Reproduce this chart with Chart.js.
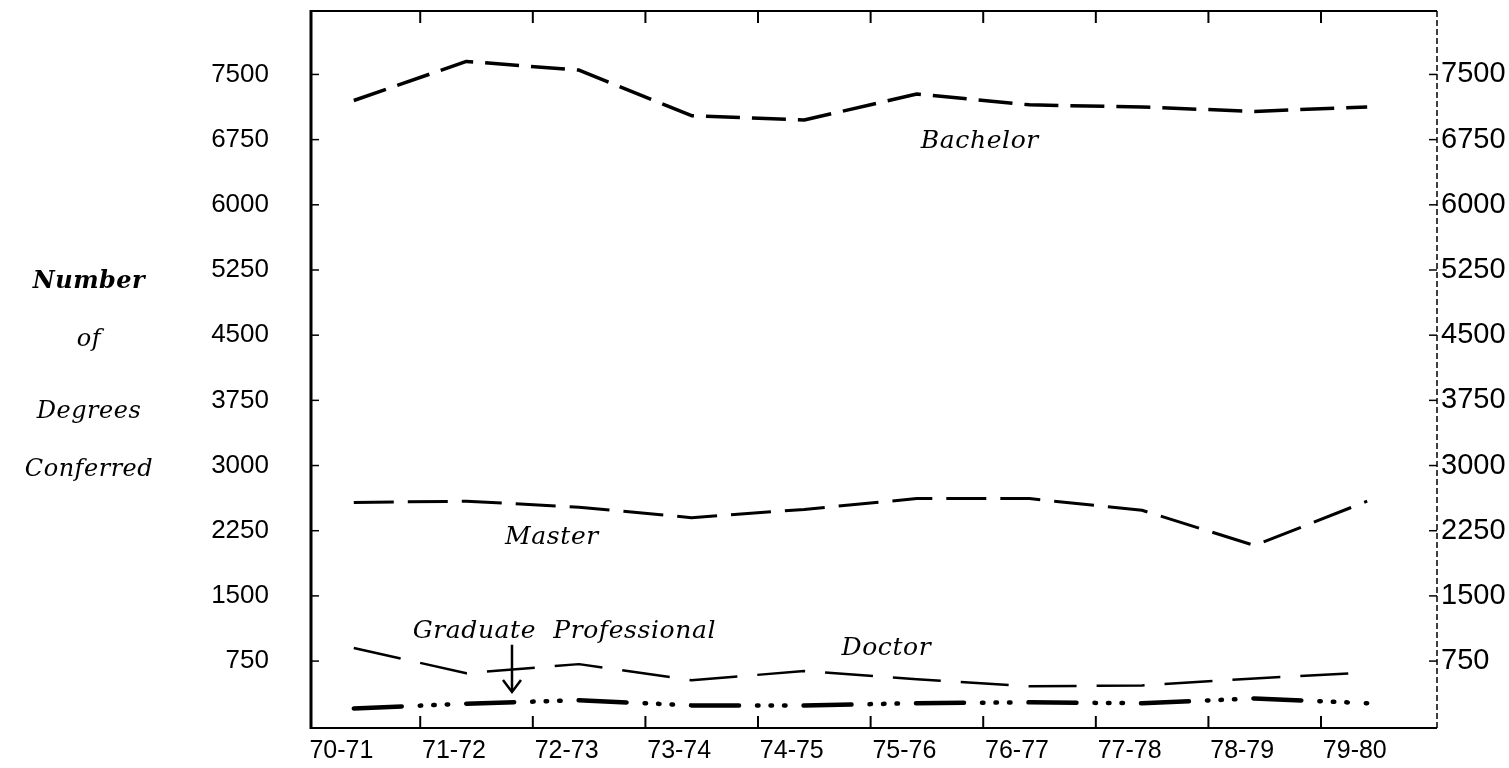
<!DOCTYPE html>
<html>
<head>
<meta charset="utf-8">
<script src="https://cdn.jsdelivr.net/npm/chart.js@4/dist/chart.umd.min.js"></script>
<style>
html,body{margin:0;padding:0;background:#fff;overflow:hidden}
canvas{display:block}
</style>
</head>
<body>
<canvas id="c" width="1509" height="768"></canvas>
<script>
// ---- data ----
const categories = ['70-71','71-72','72-73','73-74','74-75','75-76','76-77','77-78','78-79','79-80'];
const yTickValues = [750,1500,2250,3000,3750,4500,5250,6000,6750,7500];
const bachelor = [7200,7650,7550,7025,6975,7275,7150,7125,7075,7125];
const master = [2575,2590,2520,2400,2495,2620,2620,2485,2080,2590];
const doctor = [900,610,715,530,635,540,460,470,550,620];
const gradProfessional = [205,260,300,240,240,265,275,265,320,265];
const frameTickPositions = [0.7,1.7,2.7,3.7,4.7,5.7,6.7,7.7,8.7];

// annotation labels (in axis units)
const annotations = [
  {text:'Bachelor', x:5.67, y:6730},
  {text:'Master', x:1.87, y:2176},
  {text:'Graduate  Professional', x:1.98, y:1095},
  {text:'Doctor', x:4.84, y:900}
];
const arrowAnno = {x:1.515, yFrom:938, yTo:394};
const yTitleLines = [
  {text:'Number', bold:true, y:282},
  {text:'of', bold:false, y:340},
  {text:'Degrees', bold:false, y:412},
  {text:'Conferred', bold:false, y:470}
];

const toXY = arr => arr.map((v,i)=>({x:i, y:v}));

const decor = {
  id:'decor',
  afterDraw(chart){
    const ctx = chart.ctx, a = chart.chartArea;
    const xl = chart.scales.xl, y = chart.scales.y;
    ctx.save();
    ctx.strokeStyle = '#000';
    ctx.lineCap = 'butt';
    // frame
    ctx.lineWidth = 3;
    ctx.beginPath(); ctx.moveTo(a.left, a.top-1); ctx.lineTo(a.left, a.bottom+1); ctx.stroke();
    ctx.lineWidth = 2;
    ctx.beginPath(); ctx.moveTo(a.left, a.top); ctx.lineTo(a.right, a.top); ctx.stroke();
    ctx.beginPath(); ctx.moveTo(a.left, a.bottom); ctx.lineTo(a.right, a.bottom); ctx.stroke();
    ctx.lineWidth = 1.5;
    ctx.setLineDash([6,3]);
    ctx.beginPath(); ctx.moveTo(a.right, a.top); ctx.lineTo(a.right, a.bottom); ctx.stroke();
    ctx.setLineDash([]);
    // inner ticks top/bottom
    ctx.lineWidth = 2;
    frameTickPositions.forEach(v=>{
      const px = xl.getPixelForValue(v);
      ctx.beginPath(); ctx.moveTo(px, a.top); ctx.lineTo(px, a.top+12); ctx.stroke();
      ctx.beginPath(); ctx.moveTo(px, a.bottom); ctx.lineTo(px, a.bottom-12); ctx.stroke();
    });
    // inner ticks left/right
    ctx.lineWidth = 1.5;
    yTickValues.forEach(v=>{
      const py = y.getPixelForValue(v);
      ctx.beginPath(); ctx.moveTo(a.left, py); ctx.lineTo(a.left+8, py); ctx.stroke();
      ctx.beginPath(); ctx.moveTo(a.right-8, py); ctx.lineTo(a.right, py); ctx.stroke();
    });
    // annotations
    ctx.fillStyle = '#000';
    ctx.textAlign = 'center';
    ctx.textBaseline = 'middle';
    ctx.font = 'italic 25px "DejaVu Serif"';
    try { ctx.letterSpacing = '0.6px'; } catch(e) {}
    annotations.forEach(an=>{
      ctx.fillText(an.text, xl.getPixelForValue(an.x), y.getPixelForValue(an.y));
    });
    // arrow
    const ax = xl.getPixelForValue(arrowAnno.x);
    const ay1 = y.getPixelForValue(arrowAnno.yFrom), ay2 = y.getPixelForValue(arrowAnno.yTo);
    ctx.lineWidth = 2.5;
    ctx.beginPath(); ctx.moveTo(ax, ay1); ctx.lineTo(ax, ay2); ctx.stroke();
    ctx.beginPath(); ctx.moveTo(ax-9, ay2-12); ctx.lineTo(ax, ay2); ctx.lineTo(ax+9, ay2-12); ctx.stroke();
    // y title lines
    try { ctx.letterSpacing = '0.5px'; } catch(e) {}
    yTitleLines.forEach(t=>{
      ctx.font = (t.bold ? 'italic bold ' : 'italic ') + '24px "DejaVu Serif"';
      ctx.fillText(t.text, 89, t.y);
    });
    ctx.restore();
  }
};

const lineDs = (label, arr, width, dash, cap) => ({
  label, data: toXY(arr), xAxisID:'x', yAxisID:'y',
  borderColor:'#000', borderWidth:width, borderDash:dash,
  borderCapStyle: cap || 'butt', borderJoinStyle:'round',
  pointRadius:0, fill:false, tension:0
});

const noPad = s => { s.paddingTop = 0; s.paddingBottom = 0; s.paddingLeft = 0; s.paddingRight = 0; };
const fam = '"Liberation Sans", Arial, sans-serif';

new Chart(document.getElementById('c'), {
  type:'line',
  data:{
    datasets:[
      lineDs('Bachelor', bachelor, 3.5, [34,12]),
      lineDs('Master', master, 3, [40,14]),
      lineDs('Doctor', doctor, 2.5, [48,20]),
      lineDs('Graduate Professional', gradProfessional, 4.5, [48,18,1.5,12,1.5,12,1.5,18], 'round')
    ]
  },
  options:{
    responsive:false,
    animation:false,
    events:[],
    layout:{padding:{top:11,left:0,right:0,bottom:0}},
    plugins:{legend:{display:false}, tooltip:{enabled:false}},
    scales:{
      x:{type:'linear', display:false, min:-0.38, max:9.62},
      xl:{
        type:'linear', position:'bottom', min:-0.27, max:9.73,
        grid:{display:false, drawTicks:false},
        border:{display:false},
        afterBuildTicks:s=>{ s.ticks = categories.map((c,i)=>({value:i})); },
        afterFit:s=>{ s.height = 40; noPad(s); },
        ticks:{
          color:'#000', padding:8, maxRotation:0, autoSkip:false,
          font:{family:fam, size:25},
          callback:v=>categories[v] ?? ''
        }
      },
      y:{
        type:'linear', position:'left', min:-20, max:8230,
        grid:{display:false, drawTicks:false},
        border:{display:false},
        afterBuildTicks:s=>{ s.ticks = yTickValues.map(v=>({value:v})); },
        afterFit:s=>{ s.width = 311; noPad(s); },
        ticks:{color:'#000', padding:42, font:{family:fam, size:26}, callback:v=>String(v)}
      },
      y1:{
        type:'linear', position:'right', min:-20, max:8230,
        grid:{display:false, drawTicks:false},
        border:{display:false},
        afterBuildTicks:s=>{ s.ticks = yTickValues.map(v=>({value:v})); },
        afterFit:s=>{ s.width = 72; noPad(s); },
        ticks:{color:'#000', padding:4, font:{family:fam, size:29}, callback:v=>String(v)}
      }
    }
  },
  plugins:[decor]
});
</script>
</body>
</html>
